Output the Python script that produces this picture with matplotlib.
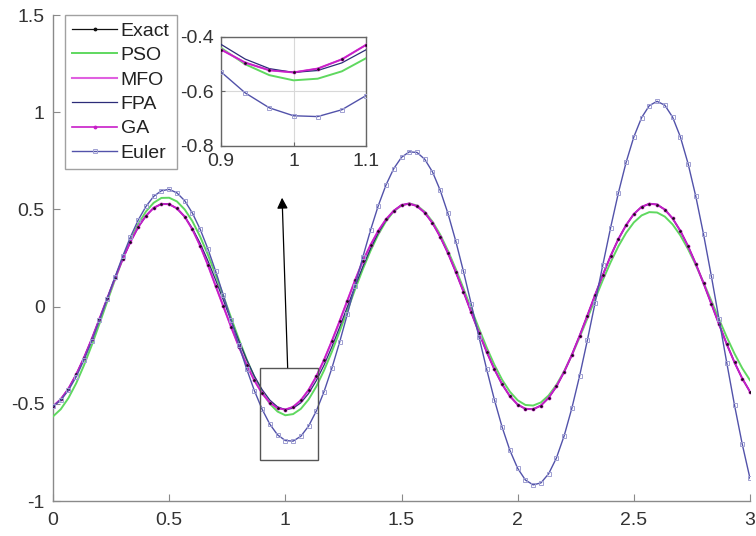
import matplotlib
matplotlib.use("Agg")
import matplotlib.pyplot as plt
import numpy as np
from matplotlib.patches import Rectangle

plt.rcParams["font.family"] = ["Liberation Sans", "DejaVu Sans"]
plt.rcParams["axes.unicode_minus"] = False

# time grid, step h = 1/30
t = np.linspace(0.0, 3.0, 91)

exact_y = [
    -0.513, -0.477, -0.422, -0.349, -0.263, -0.167, -0.063, 0.042, 0.146, 0.245,
    0.333, 0.409, 0.467, 0.508, 0.528, 0.527, 0.505, 0.463, 0.397, 0.313,
    0.214, 0.106, 0.001, -0.105, -0.206, -0.299, -0.380, -0.446, -0.494, -0.522,
    -0.530, -0.516, -0.482, -0.429, -0.359, -0.274, -0.178, -0.076, 0.030, 0.135,
    0.234, 0.317, 0.390, 0.449, 0.493, 0.522, 0.530, 0.517, 0.483, 0.430,
    0.359, 0.275, 0.179, 0.077, -0.029, -0.134, -0.233, -0.323, -0.400, -0.461,
    -0.504, -0.526, -0.528, -0.509, -0.469, -0.411, -0.336, -0.248, -0.150, -0.046,
    0.060, 0.163, 0.260, 0.347, 0.419, 0.476, 0.513, 0.529, 0.525, 0.499,
    0.454, 0.390, 0.311, 0.220, 0.120, 0.015, -0.091, -0.193, -0.287, -0.370,
    -0.438,
]

pso_y = [
    -0.565, -0.528, -0.470, -0.394, -0.302, -0.199, -0.088, 0.026, 0.138, 0.245,
    0.341, 0.424, 0.489, 0.534, 0.559, 0.560, 0.541, 0.500, 0.439, 0.360,
    0.267, 0.164, 0.054, -0.058, -0.168, -0.271, -0.363, -0.440, -0.500, -0.540,
    -0.559, -0.553, -0.526, -0.478, -0.411, -0.328, -0.233, -0.129, -0.021, 0.088,
    0.192, 0.287, 0.371, 0.439, 0.490, 0.520, 0.531, 0.520, 0.488, 0.437,
    0.370, 0.287, 0.194, 0.093, -0.011, -0.113, -0.211, -0.300, -0.377, -0.438,
    -0.482, -0.506, -0.509, -0.493, -0.457, -0.403, -0.333, -0.250, -0.158, -0.061,
    0.039, 0.137, 0.228, 0.310, 0.379, 0.433, 0.469, 0.486, 0.484, 0.463,
    0.423, 0.367, 0.296, 0.214, 0.124, 0.030, -0.065, -0.157, -0.242, -0.317,
    -0.379,
]

# MFO and GA lie on the exact solution at this scale
mfo_y = list(exact_y)
ga_y = list(exact_y)

fpa_y = [
    -0.513, -0.477, -0.422, -0.349, -0.263, -0.167, -0.063, 0.042, 0.146, 0.245,
    0.333, 0.409, 0.467, 0.508, 0.528, 0.527, 0.505, 0.463, 0.402, 0.326,
    0.236, 0.137, 0.033, -0.073, -0.176, -0.272, -0.357, -0.427, -0.481, -0.516,
    -0.530, -0.523, -0.495, -0.447, -0.381, -0.301, -0.208, -0.107, -0.002, 0.104,
    0.205, 0.298, 0.379, 0.445, 0.493, 0.522, 0.530, 0.517, 0.483, 0.430,
    0.359, 0.275, 0.179, 0.077, -0.029, -0.134, -0.233, -0.323, -0.400, -0.461,
    -0.504, -0.526, -0.528, -0.509, -0.469, -0.411, -0.336, -0.248, -0.150, -0.046,
    0.060, 0.163, 0.260, 0.347, 0.419, 0.476, 0.513, 0.529, 0.525, 0.499,
    0.454, 0.390, 0.311, 0.220, 0.120, 0.015, -0.091, -0.193, -0.287, -0.370,
    -0.438,
]

euler_y = [
    -0.513, -0.482, -0.430, -0.361, -0.275, -0.178, -0.071, 0.040, 0.151, 0.259,
    0.358, 0.445, 0.515, 0.567, 0.596, 0.603, 0.585, 0.545, 0.481, 0.398,
    0.297, 0.182, 0.058, -0.070, -0.198, -0.320, -0.432, -0.528, -0.605, -0.660,
    -0.689, -0.692, -0.667, -0.615, -0.537, -0.437, -0.318, -0.184, -0.040, 0.108,
    0.254, 0.393, 0.519, 0.626, 0.710, 0.768, 0.796, 0.793, 0.758, 0.693,
    0.598, 0.479, 0.338, 0.181, 0.014, -0.156, -0.323, -0.480, -0.621, -0.740,
    -0.832, -0.892, -0.917, -0.907, -0.860, -0.779, -0.665, -0.522, -0.356, -0.173,
    0.020, 0.215, 0.406, 0.584, 0.742, 0.873, 0.972, 1.034, 1.056, 1.036,
    0.975, 0.874, 0.736, 0.567, 0.372, 0.159, -0.065, -0.289, -0.507, -0.708,
    -0.884,
]

labels = ["Exact", "PSO", "MFO", "FPA", "GA", "Euler"]
x_ticks = [0, 0.5, 1, 1.5, 2, 2.5, 3]
x_ticklabels = ["0", "0.5", "1", "1.5", "2", "2.5", "3"]
y_ticks = [-1, -0.5, 0, 0.5, 1, 1.5]
y_ticklabels = ["-1", "-0.5", "0", "0.5", "1", "1.5"]
inset_xticks = [0.9, 1.0, 1.1]
inset_xticklabels = ["0.9", "1", "1.1"]
inset_yticks = [-0.8, -0.6, -0.4]
inset_yticklabels = ["-0.8", "-0.6", "-0.4"]

c_exact = "#111111"
c_pso = "#5fd85f"
c_mfo = "#e060e0"
c_fpa = "#2c2c78"
c_ga = "#c81ec8"
c_euler = "#5252aa"
c_euler_mk = "#a0a0d2"
spine_c = "#8a8a8a"
text_c = "#333333"
FS = 14


def draw_series(ax):
    ax.plot(t, exact_y, color=c_exact, lw=0.7, zorder=2)
    hp, = ax.plot(t, pso_y, color=c_pso, lw=1.4, zorder=3)
    hm, = ax.plot(t, mfo_y, color=c_mfo, lw=1.5, zorder=3)
    hf, = ax.plot(t, fpa_y, color=c_fpa, lw=0.9, zorder=4)
    hg, = ax.plot(t, ga_y, color=c_ga, lw=1.2, marker=".", ms=3.5, zorder=5)
    ax.plot(t, exact_y, color=c_exact, lw=0, marker=".", ms=1.8, zorder=6)
    he, = ax.plot(t, euler_y, color=c_euler, lw=1.0, marker="s", ms=3.2,
                  mfc="none", mec=c_euler_mk, mew=0.7, zorder=7)
    hx, = ax.plot([], [], color=c_exact, lw=0.9, marker=".", ms=3.5)
    return [hx, hp, hm, hf, hg, he]


fig = plt.figure(figsize=(7.56, 5.36), dpi=100)
ax = fig.add_axes([53 / 756, 1 - 501 / 536, 697 / 756, 486 / 536])
handles = draw_series(ax)
ax.set_xlim(0, 3)
ax.set_ylim(-1, 1.5)
ax.set_xticks(x_ticks)
ax.set_xticklabels(x_ticklabels)
ax.set_yticks(y_ticks)
ax.set_yticklabels(y_ticklabels)
for s in ("top", "right"):
    ax.spines[s].set_visible(False)
for s in ("left", "bottom"):
    ax.spines[s].set_color(spine_c)
    ax.spines[s].set_linewidth(1.0)
ax.tick_params(direction="in", length=5, width=0.8, color=spine_c,
               labelsize=FS, labelcolor=text_c)
ax.tick_params(axis="x", pad=8)
ax.tick_params(axis="y", pad=6)

# zoom window and arrow towards the inset
ax.add_patch(Rectangle((0.891, -0.79), 0.25, 0.476, fill=False,
                       edgecolor="#555555", lw=1.0, zorder=8))
ax.annotate("", xy=(0.986, 0.56), xytext=(1.01, -0.314),
            arrowprops=dict(arrowstyle="-|>", color="black", lw=0.9,
                            mutation_scale=16, shrinkA=0, shrinkB=0),
            zorder=9)

leg = fig.legend(handles, labels, loc="upper left",
                 bbox_to_anchor=(65 / 756, 1 - 15 / 536),
                 bbox_transform=fig.transFigure, borderaxespad=0,
                 fontsize=FS, frameon=True, fancybox=False,
                 handlelength=2.3, handletextpad=0.2, labelspacing=0.35,
                 borderpad=0.37)
leg.get_frame().set_edgecolor(spine_c)
leg.get_frame().set_linewidth(1.0)
for txt in leg.get_texts():
    txt.set_color("#222222")

# magnified inset
axi = fig.add_axes([221 / 756, 1 - 146 / 536, 145 / 756, 109 / 536])
draw_series(axi)
axi.set_xlim(0.9, 1.1)
axi.set_ylim(-0.8, -0.4)
axi.set_xticks(inset_xticks)
axi.set_xticklabels(inset_xticklabels)
axi.set_yticks(inset_yticks)
axi.set_yticklabels(inset_yticklabels)
axi.grid(True, color="#d8d8d8", lw=0.8)
axi.set_axisbelow(True)
for s in axi.spines.values():
    s.set_color("#666666")
    s.set_linewidth(1.0)
axi.tick_params(direction="in", length=3, width=0.8, color="#666666",
                labelsize=FS, labelcolor=text_c, pad=5)

fig.savefig("out.png", dpi=100, facecolor="white")
